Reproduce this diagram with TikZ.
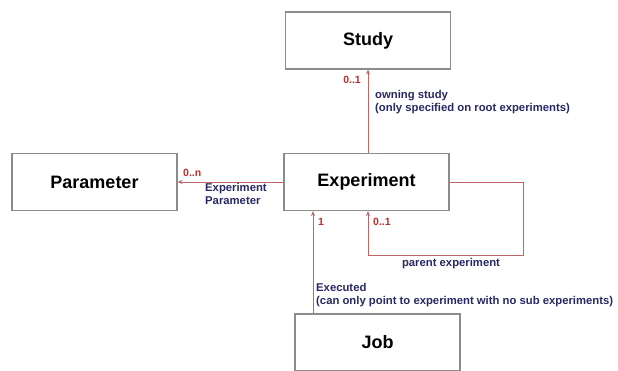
\documentclass[tikz,border=0pt]{standalone}
\usepackage{fontspec}
\setmainfont{Liberation Sans}
\usepackage{tikz}
\usetikzlibrary{arrows.meta,positioning,calc}
\definecolor{umlgray}{RGB}{140,140,140}
\definecolor{umlline}{RGB}{192,100,100}
\definecolor{umlred}{RGB}{190,45,45}
\definecolor{umlnavy}{RGB}{40,40,100}
\tikzset{
  classbox/.style={rectangle, draw=umlgray, line width=1.2pt, fill=white,
    minimum width=165pt, minimum height=57pt, text centered,
    font=\bfseries\fontsize{18}{20}\selectfont},
  assoc/.style={draw=umlline, line width=0.9pt, -{Stealth[length=5pt,width=4pt]}},
  mult/.style={inner sep=0pt, text=umlred, font=\bfseries\fontsize{10.5}{12}\selectfont},
  rolelabel/.style={inner sep=0pt, align=left, text=umlnavy, font=\bfseries\fontsize{11.3}{13.5}\selectfont}
}
\begin{document}
\begin{tikzpicture}[x=1pt,y=-1pt]
\useasboundingbox (0,0) rectangle (618,371);
% classes
\node[classbox] (study) at (368,40.5) {Study};
\node[classbox] (exp) at (366.5,182) {Experiment};
\node[classbox] (param) at (94.5,182) {Parameter};
\node[classbox] (job) at (377.5,342.5) {Job};
\coordinate (loopc) at (523,255);
% associations
\draw[assoc] (study.south |- exp.north) -- (study.south);
\draw[assoc] (exp.west) -- (param.east);
\draw[assoc] (exp.east) -| (loopc) -| ([xshift=1.5pt]exp.south);
\draw[assoc] ([xshift=-53.5pt]exp.south |- job.north) -- ([xshift=-53.5pt]exp.south);
% multiplicities
\node[mult, anchor=east] (m1) at (361,80) {0..1};
\node[mult, anchor=west] (m2) at (183,173) {0..n};
\node[mult, anchor=west] (m3) at (373,222) {0..1};
\node[mult, anchor=west] (m4) at (318,222) {1};
% roles
\node[rolelabel, anchor=north west] (r1) at (375,90) {owning study\\(only specified on root experiments)};
\node[rolelabel, anchor=north west] (r2) at (205,183) {Experiment\\Parameter};
\node[rolelabel] (r3) at (451,264) {parent experiment};
\node[rolelabel, anchor=north west] (r4) at (316,283) {Executed\\(can only point to experiment with no sub experiments)};
\end{tikzpicture}
\end{document}
